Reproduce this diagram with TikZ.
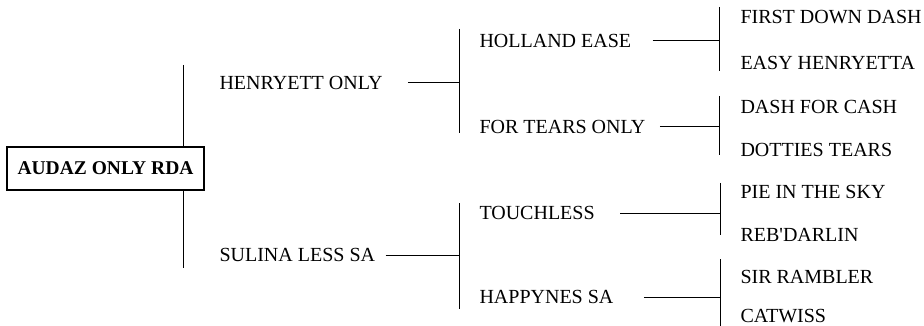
\documentclass[tikz,border=0pt]{standalone}
\usepackage{fontspec}
\setmainfont{Liberation Serif}[Ligatures=TeXOff]
\begin{document}
\begin{tikzpicture}[x=1pt, y=-1pt, line width=1pt,
    horse/.style={anchor=west, inner sep=0pt, text height=13.2pt, text depth=0pt,
      font=\fontsize{20}{24}\selectfont},
    sire/.style={draw, line width=1.3pt, fill=white, minimum width=197pt,
      minimum height=43pt, inner sep=0pt, font=\fontsize{19.5}{24}\selectfont\bfseries}]
  \useasboundingbox (0,0) rectangle (924,326);

  % Root horse
  \node[sire] (audaz) at (105.5,168.5) {AUDAZ ONLY RDA};
  \coordinate (r1) at (183,65);
  \coordinate (r2) at (183,268);
  \draw (r1) -- (r1 |- audaz.north);
  \draw (audaz.south -| r2) -- (r2);

  % Parents
  \node[horse] (henryett) at (219,83) {HENRYETT ONLY};
  \node[horse] (sulina) at (219,255) {SULINA LESS SA};

  % Grandparents
  \node[horse] (holland) at (479,41) {HOLLAND EASE};
  \node[horse] (fortears) at (479,127) {FOR TEARS ONLY};
  \node[horse] (touchless) at (479,213) {TOUCHLESS};
  \node[horse] (happynes) at (479,297) {HAPPYNES SA};

  % Bars between parents and grandparents
  \coordinate (h1) at (459,29);
  \coordinate (h2) at (459,133);
  \coordinate (s1) at (459,203);
  \coordinate (s2) at (459,309);
  \draw (h1) -- (h2);
  \draw (s1) -- (s2);
  \draw ([xshift=25pt]henryett.east) -- (henryett.east -| h1);
  \draw ([xshift=10pt]sulina.east) -- (sulina.east -| s1);

  % Great-grandparents
  \node[horse] (firstdown) at (740,17) {FIRST DOWN DASH};
  \node[horse] (easyhen) at (740,63) {EASY HENRYETTA};
  \node[horse] (dashcash) at (740,107) {DASH FOR CASH};
  \node[horse] (dotties) at (740,150) {DOTTIES TEARS};
  \node[horse] (piesky) at (740,192) {PIE IN THE SKY};
  \node[horse] (rebdarlin) at (740,235) {REB'DARLIN};
  \node[horse] (sirrambler) at (740,277) {SIR RAMBLER};
  \node[horse] (catwiss) at (740,316) {CATWISS};

  % Bars between grandparents and great-grandparents
  \coordinate (ho1) at (719,7);
  \coordinate (ho2) at (719,71);
  \coordinate (ft1) at (719,96);
  \coordinate (ft2) at (719,155);
  \coordinate (to1) at (720,183);
  \coordinate (to2) at (720,235);
  \coordinate (hp1) at (720,259);
  \coordinate (hp2) at (720,326);
  \draw (ho1) -- (ho2);
  \draw (ft1) -- (ft2);
  \draw (to1) -- (to2);
  \draw (hp1) -- (hp2);
  \draw ([xshift=21pt]holland.east) -- (holland.east -| ho1);
  \draw ([xshift=14pt]fortears.east) -- (fortears.east -| ft1);
  \draw ([xshift=25pt]touchless.east) -- (touchless.east -| to1);
  \draw ([xshift=30pt]happynes.east) -- (happynes.east -| hp1);
\end{tikzpicture}
\end{document}
